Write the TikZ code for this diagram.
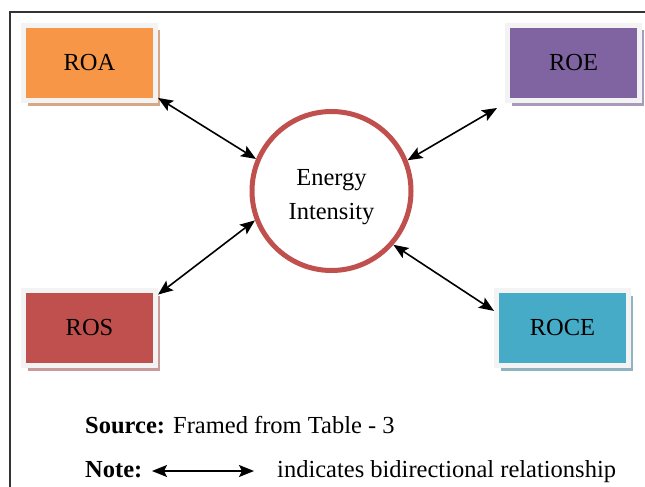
\documentclass[tikz,border=0pt]{standalone}
\usepackage{fontspec}
\setmainfont{Liberation Serif}
\usetikzlibrary{arrows.meta,shadows,calc}
\definecolor{cOrange}{HTML}{F79646}
\definecolor{cPurple}{HTML}{8064A2}
\definecolor{cRed}{HTML}{C0504D}
\definecolor{cTeal}{HTML}{45ABC7}
\definecolor{shOrange}{HTML}{D6A886}
\definecolor{shPurple}{HTML}{A99CBA}
\definecolor{shRed}{HTML}{C99A99}
\definecolor{shTeal}{HTML}{8FB3BF}
\definecolor{frameLight}{HTML}{F3F3F3}
\definecolor{circRed}{HTML}{C0504D}
\tikzset{
  boxnode/.style={minimum width=132pt, minimum height=75pt, inner sep=0pt,
    line width=5pt, draw=frameLight, font=\fontsize{24.5}{30}\selectfont,
    drop shadow={shadow xshift=4pt, shadow yshift=-5pt, fill=#1, opacity=1}},
  biarrow/.style={{Stealth[length=15pt,width=12pt,inset=3pt]}-{Stealth[length=15pt,width=12pt,inset=3pt]}, line width=1.6pt, black},
  circnode/.style={circle, draw=circRed, line width=5pt, minimum size=159pt, inner sep=0pt},
  circtext/.style={align=center, font=\fontsize{24.5}{34}\selectfont, inner sep=0pt, yshift=-6pt},
  txt/.style={font=\fontsize{24.5}{30}\selectfont, inner sep=0pt, anchor=base west}
}
\begin{document}
\begin{tikzpicture}[x=1pt,y=-1pt]
\useasboundingbox (0,0) rectangle (645,487);
\draw[line width=1.3pt, black!80] (10,487) -- (10,12) -- (645,12);

\node[boxnode=shOrange, fill=cOrange] (roa) at (89.5,63) {ROA};
\node[boxnode=shPurple, fill=cPurple] (roe) at (573.5,63) {ROE};
\node[boxnode=shRed, fill=cRed] (ros) at (89.5,328) {ROS};
\node[boxnode=shTeal, fill=cTeal] (roce) at (562.5,328) {ROCE};

\node[circnode, label={[circtext]center:{Energy\\Intensity}}] (ei) at (331.5,191) {};

\draw[biarrow] (roa.-27) -- (ei.157);
\draw[biarrow] ($(roe.south west)+(-8,5)$) -- (ei.22);
\draw[biarrow] (ros.26) -- (ei.201);
\draw[biarrow] (roce.166) -- (ei.319);

\node[txt] (src) at (85,433) {\textbf{Source:} Framed from Table - 3};
\node[txt] (note) at (85,477) {\textbf{Note:}};
\coordinate (na) at (152,471);
\coordinate (nb) at (254,471);
\draw[biarrow] (na) -- (nb);
\node[txt] (ind) at (277,477) {indicates bidirectional relationship};
\end{tikzpicture}
\end{document}
